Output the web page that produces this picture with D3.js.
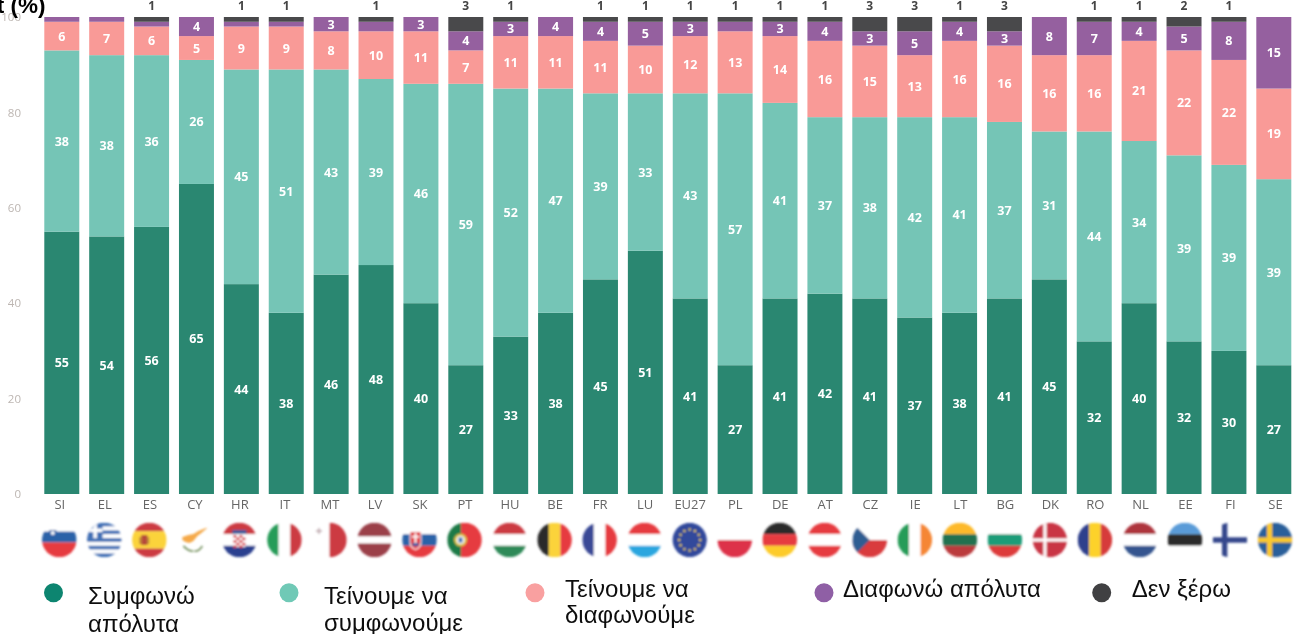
<!DOCTYPE html>
<html>
<head>
<meta charset="utf-8">
<script src="https://cdn.jsdelivr.net/npm/d3@7/dist/d3.min.js"></script>
<style>
html,body{margin:0;padding:0;background:#fff;overflow:hidden}
svg{display:block}
</style>
</head>
<body>
<svg id="c" width="1299" height="634"></svg>
<script>
const categories = ["SI","EL","ES","CY","HR","IT","MT","LV","SK","PT","HU","BE","FR","LU","EU27","PL","DE","AT","CZ","IE","LT","BG","DK","RO","NL","EE","FI","SE"];
const totallyAgree    = [55,54,56,65,44,38,46,48,40,27,33,38,45,51,41,27,41,42,41,37,38,41,45,32,40,32,30,27];
const tendToAgree     = [38,38,36,26,45,51,43,39,46,59,52,47,39,33,43,57,41,37,38,42,41,37,31,44,34,39,39,39];
const tendToDisagree  = [6,7,6,5,9,9,8,10,11,7,11,11,11,10,12,13,14,16,15,13,16,16,16,16,21,22,22,19];
const totallyDisagree = [1,1,1,4,1,1,3,2,3,4,3,4,4,5,3,2,3,4,3,5,4,3,8,7,4,5,8,15];
const dontKnow        = [0,0,1,0,1,1,0,1,0,3,1,0,1,1,1,1,1,1,3,3,1,3,0,1,1,2,1,0];
const yTicks = [0,20,40,60,80,100];
const seriesNames = ["Συμφωνώ απόλυτα","Τείνουμε να συμφωνούμε","Τείνουμε να διαφωνούμε","Διαφωνώ απόλυτα","Δεν ξέρω"];
const seriesColors = ["#2a8771","#74c5b6","#f99a97","#95609f","#4a4a4c"];
const legendColors = ["#0f8570","#6fc9b6","#f9a0a0","#8f5ea5","#414143"];
const legendLines = [["Συμφωνώ","απόλυτα"],["Τείνουμε να","συμφωνούμε"],["Τείνουμε να","διαφωνούμε"],["Διαφωνώ απόλυτα"],["Δεν ξέρω"]];

const svg = d3.select("#c");
const defs = svg.append("defs");
[["b1",0.7],["b2",0.85],["b3",0.4]].forEach(([id,s])=>{
  defs.append("filter").attr("id",id).attr("x","-5%").attr("y","-5%").attr("width","110%").attr("height","110%")
    .append("feGaussianBlur").attr("stdDeviation",s);
});

const x = d3.scaleBand().domain(categories).range([44.3,1291.3]).paddingInner(0.2205).paddingOuter(0);
const xFlag = d3.scalePoint().domain(categories).range([59.3,1275]);
const y = d3.scaleLinear().domain([0,100]).range([494,17]);

const rows = categories.map((c,i)=>({c,a:totallyAgree[i],b:tendToAgree[i],d:tendToDisagree[i],e:totallyDisagree[i],f:dontKnow[i]}));
const stack = d3.stack().keys(["a","b","d","e","f"])(rows);

const chart = svg.append("g").attr("filter","url(#b1)");

// axes
const ya = chart.append("g").attr("transform","translate(21,0)").call(d3.axisLeft(y).tickValues(yTicks).tickSize(0).tickPadding(0));
ya.select(".domain").remove();
ya.selectAll("text").attr("fill","#bdb6b2").style("font","11.5px 'Open Sans'");

const xa = chart.append("g").attr("transform","translate(0,497.5)").call(d3.axisBottom(xFlag).tickSize(0).tickPadding(0));
xa.select(".domain").remove();
xa.selectAll("text").attr("fill","#666").attr("dy","0.9em").style("font","13px 'Open Sans'");

// bars
const layers = chart.selectAll("g.layer").data(stack).join("g").attr("class","layer").attr("fill",(d,i)=>seriesColors[i]);
layers.selectAll("rect").data(d=>d).join("rect")
  .attr("x",d=>x(d.data.c)).attr("width",x.bandwidth())
  .attr("y",d=>y(d[1])).attr("height",d=>Math.max(0,y(d[0])-y(d[1])));

// labels in segments
stack.slice(0,4).forEach((s,i)=>{
  chart.append("g").selectAll("text").data(s.filter(d=>i<3||d[1]-d[0]>=3)).join("text")
    .attr("x",d=>x(d.data.c)+x.bandwidth()/2)
    .attr("y",d=>y((d[0]+d[1])/2))
    .attr("dy","0.36em").attr("text-anchor","middle").attr("fill","#fff")
    .style("font","bold 12.5px 'Open Sans'")
    .text(d=>d[1]-d[0]);
});
// "don't know" labels above bars
chart.append("g").selectAll("text").data(rows.filter(r=>r.f>0)).join("text")
  .attr("x",d=>x(d.c)+x.bandwidth()/2).attr("y",y(100)-7)
  .attr("text-anchor","middle").attr("fill","#444")
  .style("font","bold 12px 'Open Sans'").text(d=>d.f);

// flags
const R = 17.3;
const C = {red:"#e63a3f",dred:"#cc3a42",blue:"#2a62a8",navy:"#3a4a96",green:"#259c58",dgreen:"#23714f",yellow:"#fbd33a",black:"#2b2b2b",white:"#fff",orange:"#f58634"};
function bands(g,dir,list){
  const tot = d3.sum(list,d=>d[1]); let p=-R;
  list.forEach(([col,w])=>{
    const s = w/tot*2*R;
    if(dir==="h") g.append("rect").attr("x",-R).attr("y",p).attr("width",2*R).attr("height",s).attr("fill",col);
    else g.append("rect").attr("x",p).attr("y",-R).attr("width",s).attr("height",2*R).attr("fill",col);
    p+=s;
  });
}
const rect=(g,a,b,w,h,f)=>g.append("rect").attr("x",a).attr("y",b).attr("width",w).attr("height",h).attr("fill",f);
const flagDraw = {
  SI:g=>{bands(g,"h",[[C.white,9],[C.blue,11],[C.red,15]]);rect(g,-10,-10,7,7,C.blue);g.append("circle").attr("cx",-6.5).attr("cy",-7).attr("r",2).attr("fill","#fff");},
  EL:g=>{bands(g,"h",[0,1,2,3,4,5,6,7,8].map(i=>[i%2?C.white:"#3f6fb5",1]));rect(g,-R,-R,15.5,15.5,"#3f6fb5");rect(g,-R,-11.5,15.5,3.6,"#fff");rect(g,-11,-R,3.6,15.5,"#fff");},
  ES:g=>{bands(g,"h",[[C.dred,1],[C.yellow,2],[C.dred,1]]);rect(g,-8,-5,6,10,"#b5493a");rect(g,-10,-3,1.8,7,"#b5803a");rect(g,-2,-3,1.8,7,"#b5803a");},
  CY:g=>{g.append("path").attr("d",d3.line()([[-12,-3],[-6,-5],[-1,-6],[4,-9],[14,-13],[7,-7],[3,-4],[-1,1],[-5,3],[-9,2],[-12,0]])).attr("fill","#f5a94a");
    g.append("path").attr("d","M-11,6 Q-5,12 -1,11 M8,6 Q4,12 0,11").attr("fill","none").attr("stroke","#7f9a6a").attr("stroke-width",1.8);},
  HR:g=>{bands(g,"h",[[C.dred,1],[C.white,1],["#2c3f8f",1]]);
    rect(g,-6,-8,12,15,"#fff");
    d3.range(5).forEach(r=>d3.range(4).forEach(k=>{if((r+k)%2==0)rect(g,-6+k*3,-5+r*2.6,3,2.6,"#d5333c");}));
    rect(g,-7,-10,14,4,"#3f5b9c");},
  IT:g=>bands(g,"v",[[C.green,1],[C.white,1],[C.dred,1]]),
  MT:g=>{bands(g,"v",[[C.white,1],[C.dred,1]]);rect(g,-13.5,-10,6,2,"#c9b6bb");rect(g,-11.5,-12,2,6,"#c9b6bb");},
  LV:g=>bands(g,"h",[["#9b3f4a",2],[C.white,1],["#9b3f4a",2]]),
  SK:g=>{bands(g,"h",[[C.white,1],[C.blue,1],[C.red,1]]);g.append("path").attr("d","M-10,-9 H2 V2 Q2,8 -4,10 Q-10,8 -10,2Z").attr("fill","#fff");g.append("path").attr("d","M-9,-8 H1 V2 Q1,7 -4,9 Q-9,7 -9,2Z").attr("fill","#e0383f");rect(g,-5,-7,2,10,"#fff");rect(g,-7.5,-4,7,1.6,"#fff");rect(g,-7,3,6,3,C.blue);},
  PT:g=>{bands(g,"v",[["#1f7a46",2],[C.red,3]]);g.append("circle").attr("cx",-4).attr("r",6.5).attr("fill","#d9c04a");g.append("circle").attr("cx",-4).attr("r",4).attr("fill","#fff");rect(g,-6,-2.5,4,5,"#3f6fb5");},
  HU:g=>bands(g,"h",[[C.dred,1],[C.white,1],["#2f8a58",1]]),
  BE:g=>bands(g,"v",[[C.black,1],[C.yellow,1],[C.red,1]]),
  FR:g=>bands(g,"v",[[C.navy,1],[C.white,1],[C.red,1]]),
  LU:g=>bands(g,"h",[[C.red,1],[C.white,1],["#2ba6df",1]]),
  EU27:g=>{g.append("circle").attr("r",R).attr("fill","#33489b");
    d3.range(12).forEach(i=>{const t=i/12*2*Math.PI;g.append("circle").attr("cx",10.5*Math.cos(t)).attr("cy",10.5*Math.sin(t)).attr("r",1.2).attr("fill","#e8cf4a");});},
  PL:g=>bands(g,"h",[[C.white,1],["#dd3049",1]]),
  DE:g=>bands(g,"h",[[C.black,1],[C.red,1],["#fdcb2a",1]]),
  AT:g=>bands(g,"h",[[C.red,1],[C.white,1],[C.red,1]]),
  CZ:g=>{bands(g,"h",[[C.white,1],["#d93a3c",1]]);g.append("path").attr("d",`M${-R},${-R} L0,0 L${-R},${R}Z`).attr("fill","#2f5d92");},
  IE:g=>bands(g,"v",[[C.green,1],[C.white,1],[C.orange,1]]),
  LT:g=>bands(g,"h",[["#fdb92c",1],[C.dgreen,1],["#bb3a3e",1]]),
  BG:g=>bands(g,"h",[[C.white,1],["#1f9c78",1],["#dd3a3a",1]]),
  DK:g=>{g.append("circle").attr("r",R).attr("fill","#c93444");rect(g,-R,-1.6,2*R,3.2,"#fff");rect(g,-6.5,-R,3.2,2*R,"#fff");},
  RO:g=>bands(g,"v",[["#2f3f8c",1],["#fdd22c",1],["#d63a3a",1]]),
  NL:g=>bands(g,"h",[["#ae343e",1],[C.white,1],["#34558f",1]]),
  EE:g=>bands(g,"h",[["#5a9bd8",1],[C.black,1],[C.white,1]]),
  FI:g=>{rect(g,-R,-2.7,2*R,5.4,"#34468c");rect(g,-8,-R,5.4,2*R,"#34468c");},
  SE:g=>{g.append("circle").attr("r",R).attr("fill","#2a5f9a");rect(g,-R,-2.6,2*R,5.2,"#fbc82f");rect(g,-8,-R,5.2,2*R,"#fbc82f");}
};
defs.append("clipPath").attr("id","flagClip").append("circle").attr("r",R);
const flags = svg.append("g").attr("filter","url(#b2)");
categories.forEach(c=>{
  const g = flags.append("g").attr("transform",`translate(${xFlag(c)},540)`).append("g").attr("clip-path","url(#flagClip)");
  flagDraw[c](g);
});

// legend
const legendX = [53.5,289,535,824,1101.7];
const legendTextX = [88,324,565,843,1131.7];
const legendBase = [604,604,597,597,597];
const legendGap = [28,27,26,0,0];
const legend = svg.append("g").attr("filter","url(#b3)");
seriesNames.forEach((n,i)=>{
  legend.append("circle").attr("cx",legendX[i]).attr("cy",592.7).attr("r",9.5).attr("fill",legendColors[i]);
  const t = legend.append("text").attr("fill","#111").style("font","24px 'Liberation Sans'");
  legendLines[i].forEach((l,k)=>t.append("tspan").attr("x",legendTextX[i]).attr("y",legendBase[i]+k*legendGap[i]).text(l));
});

// clipped title fragment
svg.append("text").attr("x",45.5).attr("y",13).attr("text-anchor","end").attr("fill","#000")
  .style("font","bold 22.5px 'Liberation Sans'").text("t (%)");
</script>
</body>
</html>
